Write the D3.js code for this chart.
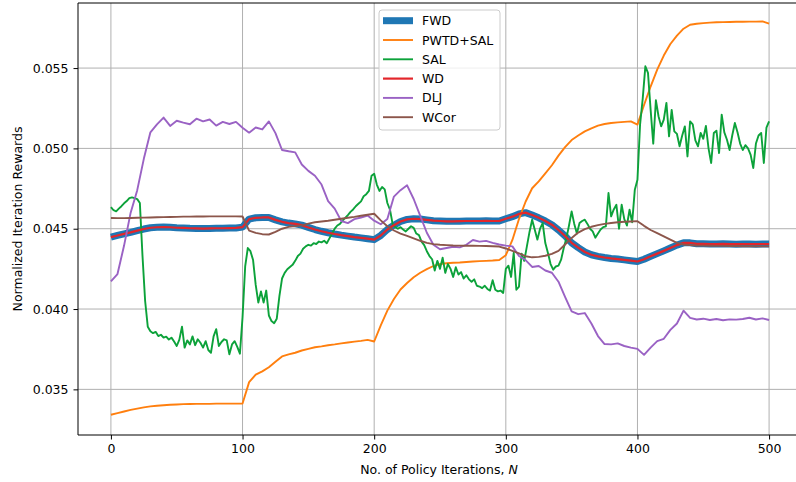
<!DOCTYPE html>
<html>
<head>
<meta charset="utf-8">
<script src="https://cdn.jsdelivr.net/npm/d3@7/dist/d3.min.js"></script>
<style>
  body { margin: 0; background: #fff; }
  svg { display: block; }
  text { font-family: "DejaVu Sans", sans-serif; fill: #000; }
</style>
</head>
<body>
<svg id="chart" width="796" height="482"></svg>
<script>
// ---- data -------------------------------------------------------------
const xTicks = [0, 100, 200, 300, 400, 500];
const yTicks = [0.035, 0.040, 0.045, 0.050, 0.055];
const seriesNames = ["FWD", "PWTD+SAL", "SAL", "WD", "DLJ", "WCor"];

// iteration grids: smooth curves sampled every 5 iterations, SAL every 2
const iterCoarse = d3.range(0, 501, 5);
const iterFine = d3.range(0, 501, 2);

const fwd = [
  0.04448,0.04458,0.04468,0.04477,0.04488,0.04498,0.04506,0.04509,0.04510,0.04509,
  0.04506,0.04505,0.04503,0.04502,0.04501,0.04502,0.04503,0.04503,0.04504,0.04505,
  0.04510,0.04560,0.04568,0.04570,0.04570,0.04555,0.04543,0.04535,0.04530,0.04522,
  0.04508,0.04495,0.04484,0.04475,0.04467,0.04460,0.04454,0.04448,0.04443,0.04438,
  0.04432,0.04458,0.04495,0.04522,0.04545,0.04558,0.04562,0.04560,0.04555,0.04550,
  0.04548,0.04546,0.04546,0.04547,0.04548,0.04548,0.04548,0.04549,0.04548,0.04548,
  0.04562,0.04575,0.04592,0.04600,0.04585,0.04568,0.04548,0.04525,0.04492,0.04455,
  0.04412,0.04382,0.04355,0.04338,0.04328,0.04321,0.04315,0.04311,0.04306,0.04301,
  0.04296,0.04310,0.04328,0.04345,0.04362,0.04380,0.04398,0.04412,0.04412,0.04406,
  0.04406,0.04405,0.04405,0.04406,0.04405,0.04404,0.04405,0.04405,0.04404,0.04405,
  0.04405
];

const wd = [
  0.04448,0.04458,0.04468,0.04477,0.04488,0.04498,0.04506,0.04509,0.04510,0.04509,
  0.04506,0.04505,0.04503,0.04502,0.04501,0.04502,0.04503,0.04503,0.04504,0.04505,
  0.04510,0.04560,0.04568,0.04570,0.04570,0.04555,0.04543,0.04535,0.04530,0.04522,
  0.04508,0.04495,0.04484,0.04475,0.04467,0.04460,0.04454,0.04448,0.04443,0.04438,
  0.04432,0.04458,0.04495,0.04522,0.04545,0.04558,0.04562,0.04560,0.04555,0.04550,
  0.04548,0.04546,0.04546,0.04547,0.04548,0.04548,0.04548,0.04549,0.04548,0.04548,
  0.04562,0.04575,0.04592,0.04600,0.04585,0.04568,0.04548,0.04525,0.04492,0.04455,
  0.04412,0.04382,0.04355,0.04338,0.04328,0.04321,0.04315,0.04311,0.04306,0.04301,
  0.04296,0.04310,0.04328,0.04345,0.04362,0.04380,0.04398,0.04412,0.04412,0.04406,
  0.04406,0.04405,0.04405,0.04406,0.04405,0.04404,0.04405,0.04405,0.04404,0.04405,
  0.04405
];

const pwtdSal = [
  0.03342,0.03352,0.03362,0.03372,0.03380,0.03388,0.03394,0.03398,0.03401,0.03404,
  0.03406,0.03408,0.03409,0.03410,0.03410,0.03410,0.03411,0.03411,0.03411,0.03411,
  0.03412,0.03545,0.03592,0.03612,0.03638,0.03672,0.03705,0.03718,0.03728,0.03742,
  0.03752,0.03762,0.03768,0.03775,0.03780,0.03786,0.03792,0.03797,0.03802,0.03808,
  0.03798,0.03898,0.03990,0.04062,0.04122,0.04162,0.04198,0.04226,0.04248,0.04268,
  0.04280,0.04285,0.04288,0.04290,0.04293,0.04296,0.04298,0.04300,0.04302,0.04305,
  0.04335,0.04430,0.04560,0.04668,0.04752,0.04795,0.04845,0.04895,0.04955,0.05008,
  0.05052,0.05080,0.05106,0.05125,0.05142,0.05152,0.05158,0.05162,0.05165,0.05168,
  0.05148,0.05270,0.05385,0.05490,0.05578,0.05650,0.05702,0.05745,0.05770,0.05776,
  0.05780,0.05783,0.05785,0.05786,0.05787,0.05788,0.05788,0.05789,0.05789,0.05790,
  0.05776
];

const sal = [
  0.04635,0.04615,0.04608,0.04625,0.04640,0.04658,0.04672,0.04690,0.04695,0.04690,
  0.04684,0.04660,0.04330,0.04050,0.03890,0.03862,0.03850,0.03858,0.03832,0.03840,
  0.03822,0.03828,0.03810,0.03822,0.03798,0.03770,0.03810,0.03890,0.03760,0.03805,
  0.03780,0.03830,0.03775,0.03812,0.03790,0.03760,0.03800,0.03745,0.03728,0.03830,
  0.03875,0.03770,0.03795,0.03812,0.03805,0.03718,0.03780,0.03800,0.03765,0.03722,
  0.03950,0.04265,0.04380,0.04360,0.04305,0.04150,0.04040,0.04110,0.04040,0.04115,
  0.03960,0.03925,0.03912,0.03940,0.04080,0.04190,0.04225,0.04248,0.04262,0.04275,
  0.04300,0.04330,0.04345,0.04375,0.04390,0.04400,0.04395,0.04410,0.04405,0.04420,
  0.04415,0.04425,0.04410,0.04440,0.04470,0.04500,0.04520,0.04530,0.04550,0.04567,
  0.04585,0.04605,0.04620,0.04640,0.04655,0.04670,0.04702,0.04715,0.04735,0.04830,
  0.04842,0.04775,0.04735,0.04760,0.04745,0.04660,0.04618,0.04530,0.04510,0.04500,
  0.04510,0.04495,0.04483,0.04500,0.04515,0.04505,0.04470,0.04460,0.04420,0.04398,
  0.04360,0.04330,0.04310,0.04240,0.04300,0.04250,0.04320,0.04225,0.04280,0.04250,
  0.04200,0.04260,0.04215,0.04230,0.04190,0.04210,0.04185,0.04170,0.04185,0.04145,
  0.04140,0.04130,0.04145,0.04125,0.04115,0.04180,0.04120,0.04110,0.04115,0.04100,
  0.04250,0.04270,0.04200,0.04350,0.04120,0.04140,0.04345,0.04300,0.04390,0.04480,
  0.04556,0.04494,0.04432,0.04500,0.04535,0.04411,0.04349,0.04280,0.04245,0.04265,
  0.04270,0.04307,0.04380,0.04440,0.04520,0.04608,0.04530,0.04470,0.04535,0.04548,
  0.04556,0.04530,0.04500,0.04483,0.04444,0.04470,0.04495,0.04510,0.04515,0.04722,
  0.04577,0.04620,0.04649,0.04500,0.04649,0.04560,0.04520,0.04618,0.04540,0.04743,
  0.04805,0.05150,0.05310,0.05511,0.05470,0.05241,0.05030,0.05300,0.05200,0.05137,
  0.05179,0.05283,0.05075,0.05240,0.05106,0.05090,0.05013,0.05080,0.05137,0.04950,
  0.05168,0.05150,0.05050,0.05013,0.05096,0.05060,0.05140,0.05000,0.04909,0.05096,
  0.05110,0.04971,0.05210,0.05100,0.05054,0.04990,0.05080,0.05158,0.05100,0.05030,
  0.04990,0.05020,0.05000,0.04960,0.04878,0.05030,0.05080,0.05096,0.04909,0.05130,
  0.05168
];

const dlj = [
  0.04172,0.04218,0.04395,0.04600,0.04740,0.04935,0.05100,0.05150,0.05192,0.05140,
  0.05172,0.05160,0.05150,0.05185,0.05168,0.05180,0.05142,0.05165,0.05152,0.05165,
  0.05128,0.05098,0.05130,0.05118,0.05168,0.05095,0.04990,0.04982,0.04975,0.04900,
  0.04860,0.04830,0.04775,0.04672,0.04625,0.04548,0.04535,0.04560,0.04570,0.04582,
  0.04550,0.04528,0.04560,0.04700,0.04740,0.04770,0.04685,0.04580,0.04475,0.04400,
  0.04372,0.04380,0.04388,0.04384,0.04400,0.04430,0.04420,0.04424,0.04412,0.04402,
  0.04395,0.04390,0.04330,0.04305,0.04262,0.04268,0.04240,0.04226,0.04170,0.04075,
  0.03985,0.03968,0.03975,0.03910,0.03832,0.03782,0.03780,0.03786,0.03770,0.03760,
  0.03752,0.03715,0.03760,0.03800,0.03815,0.03870,0.03910,0.03990,0.03945,0.03935,
  0.03940,0.03932,0.03938,0.03930,0.03936,0.03934,0.03938,0.03946,0.03935,0.03942,
  0.03932
];

const wcor = [
  0.04567,0.04566,0.04566,0.04567,0.04568,0.04569,0.04570,0.04571,0.04572,0.04573,
  0.04574,0.04575,0.04575,0.04576,0.04576,0.04577,0.04577,0.04577,0.04577,0.04577,
  0.04576,0.04488,0.04474,0.04466,0.04464,0.04480,0.04500,0.04512,0.04516,0.04521,
  0.04532,0.04540,0.04545,0.04550,0.04556,0.04562,0.04568,0.04574,0.04581,0.04587,
  0.04593,0.04552,0.04515,0.04489,0.04470,0.04455,0.04440,0.04425,0.04412,0.04404,
  0.04400,0.04398,0.04396,0.04395,0.04394,0.04394,0.04393,0.04392,0.04391,0.04389,
  0.04377,0.04362,0.04346,0.04329,0.04322,0.04325,0.04332,0.04343,0.04362,0.04402,
  0.04442,0.04476,0.04498,0.04512,0.04522,0.04530,0.04536,0.04540,0.04543,0.04545,
  0.04547,0.04518,0.04492,0.04472,0.04452,0.04432,0.04412,0.04402,0.04398,0.04396,
  0.04395,0.04394,0.04393,0.04393,0.04392,0.04392,0.04391,0.04391,0.04390,0.04390,
  0.04390
];

// ---- layout ------------------------------------------------------------
const W = 796, H = 482;
const plot = { left: 78, right: 802, top: 3, bottom: 435 };

const x = d3.scaleLinear().domain([-25, 525]).range([plot.left, plot.right]);
const y = d3.scaleLinear().domain([0.03216, 0.05905]).range([plot.bottom, plot.top]);

const series = [
  { name: seriesNames[0], iters: iterCoarse, values: fwd,     color: "#1f77b4", width: 7 },
  { name: seriesNames[1], iters: iterCoarse, values: pwtdSal, color: "#ff7f0e", width: 1.9 },
  { name: seriesNames[2], iters: iterFine,   values: sal,     color: "#0ca23a", width: 1.9 },
  { name: seriesNames[3], iters: iterCoarse, values: wd,      color: "#e3262b", width: 2.2 },
  { name: seriesNames[4], iters: iterCoarse, values: dlj,     color: "#9a62c4", width: 1.9 },
  { name: seriesNames[5], iters: iterCoarse, values: wcor,    color: "#8c564b", width: 1.9 }
];

const svg = d3.select("#chart");
svg.append("rect").attr("width", W).attr("height", H).attr("fill", "#fff");

svg.append("defs").append("clipPath").attr("id", "plot-clip")
  .append("rect")
  .attr("x", plot.left).attr("y", plot.top)
  .attr("width", plot.right - plot.left).attr("height", plot.bottom - plot.top);

// grid lines
const grid = svg.append("g").attr("class", "grid");
grid.selectAll("line.gx").data(xTicks).join("line")
  .attr("x1", d => x(d)).attr("x2", d => x(d))
  .attr("y1", plot.top).attr("y2", plot.bottom)
  .attr("stroke", "#b0b0b0").attr("stroke-width", 1);
grid.selectAll("line.gy").data(yTicks).join("line")
  .attr("x1", plot.left).attr("x2", plot.right)
  .attr("y1", d => y(d)).attr("y2", d => y(d))
  .attr("stroke", "#b0b0b0").attr("stroke-width", 1);

// series lines
const lines = svg.append("g").attr("clip-path", "url(#plot-clip)");
series.forEach(s => {
  const line = d3.line()
    .x((d, i) => x(s.iters[i]))
    .y(d => y(d));
  lines.append("path")
    .datum(s.values)
    .attr("d", line)
    .attr("fill", "none")
    .attr("stroke", s.color)
    .attr("stroke-width", s.width)
    .attr("stroke-linejoin", "round")
    .attr("stroke-linecap", "butt");
});

// spines
const spine = svg.append("g").attr("stroke", "#000").attr("stroke-width", 1).attr("fill", "none");
spine.append("line").attr("x1", plot.left).attr("x2", plot.left).attr("y1", plot.top).attr("y2", plot.bottom);
spine.append("line").attr("x1", plot.left).attr("x2", plot.right).attr("y1", plot.bottom).attr("y2", plot.bottom);
spine.append("line").attr("x1", plot.left).attr("x2", plot.right).attr("y1", plot.top).attr("y2", plot.top);
spine.append("line").attr("x1", plot.right).attr("x2", plot.right).attr("y1", plot.top).attr("y2", plot.bottom);

// axes
const fontSize = "12.5px";
const xAxis = svg.append("g")
  .attr("transform", `translate(0,${plot.bottom})`)
  .call(d3.axisBottom(x).tickValues(xTicks).tickFormat(d3.format("d")).tickSizeInner(4.5).tickSizeOuter(0).tickPadding(5));
const yAxis = svg.append("g")
  .attr("transform", `translate(${plot.left},0)`)
  .call(d3.axisLeft(y).tickValues(yTicks).tickFormat(d3.format(".3f")).tickSizeInner(4.5).tickSizeOuter(0).tickPadding(5));
[xAxis, yAxis].forEach(a => {
  a.select(".domain").remove();
  a.selectAll(".tick line").attr("stroke", "#000").attr("stroke-width", 1);
  a.selectAll(".tick text")
    .attr("fill", "#000")
    .style("font-family", "'DejaVu Sans', sans-serif")
    .style("font-size", fontSize);
});

// axis titles
const xLabel = svg.append("text")
  .attr("x", (plot.left + plot.right) / 2 - 1)
  .attr("y", 474)
  .attr("text-anchor", "middle")
  .style("font-size", fontSize);
xLabel.append("tspan").text("No. of Policy Iterations, ");
xLabel.append("tspan").attr("font-style", "italic").text("N");

svg.append("text")
  .attr("transform", `translate(22,${(plot.top + plot.bottom) / 2}) rotate(-90)`)
  .attr("text-anchor", "middle")
  .style("font-size", fontSize)
  .text("Normalized Iteration Rewards");

// legend
const legend = svg.append("g").attr("transform", "translate(379,10)");
legend.append("rect")
  .attr("width", 121).attr("height", 120)
  .attr("rx", 3).attr("ry", 3)
  .attr("fill", "#fff").attr("fill-opacity", 0.8)
  .attr("stroke", "#cccccc").attr("stroke-width", 1);
const rowH = 19.3;
series.forEach((s, i) => {
  const yy = 10.7 + i * rowH;
  legend.append("line")
    .attr("x1", 4).attr("x2", 34)
    .attr("y1", yy).attr("y2", yy)
    .attr("stroke", s.color)
    .attr("stroke-width", s.width)
    .attr("stroke-linecap", "butt");
  legend.append("text")
    .attr("x", 43).attr("y", yy)
    .attr("dy", "0.36em")
    .style("font-size", fontSize)
    .text(s.name);
});
</script>
</body>
</html>
